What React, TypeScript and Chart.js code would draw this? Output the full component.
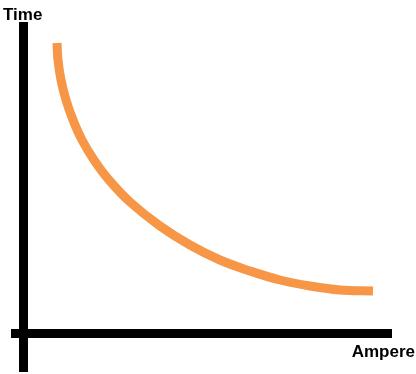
import React, { useEffect, useRef } from "react";
import { Chart, registerables } from "chart.js";

Chart.register(...registerables);

// Curve samples (arbitrary units, origin at the axis crossing)
const ampere = [3.4, 3.5, 3.8, 4.3, 5.0, 5.9, 7.1, 8.6, 10.7, 13.7, 16.7, 19.7, 22.7, 25.7, 28.7, 31.7, 35.0];
const time = [29.0, 27.3, 25.3, 23.3, 21.3, 19.3, 17.3, 15.3, 13.1, 10.7, 8.8, 7.3, 6.2, 5.3, 4.7, 4.3, 4.2];

const xLabel = "Ampere";
const yLabel = "Time";

const labelPlugin = {
  id: "axisLabels",
  afterDraw(chart: any) {
    const { ctx, chartArea } = chart;
    ctx.save();
    ctx.fillStyle = "#000";
    ctx.font = "bold 17px 'Liberation Sans', Arial, sans-serif";
    ctx.textBaseline = "alphabetic";
    ctx.textAlign = "left";
    ctx.fillText(yLabel, chartArea.left - 8, chartArea.top - 2);
    ctx.textAlign = "right";
    ctx.fillText(xLabel, chart.width - 1, chartArea.bottom - 15);
    ctx.restore();
  },
};

export default function App() {
  const ref = useRef<HTMLCanvasElement>(null);
  useEffect(() => {
    if (!ref.current) return;
    const zeroOnly = (scale: any) => {
      scale.ticks = [{ value: 0 }];
    };
    const chart = new Chart(ref.current, {
      type: "line",
      data: {
        datasets: [
          {
            data: ampere.map((a, i) => ({ x: a, y: time[i] })),
            borderColor: "#F79646",
            borderWidth: 9,
            borderCapStyle: "butt",
            borderJoinStyle: "round",
            pointRadius: 0,
            tension: 0.4,
            fill: false,
          },
        ],
      },
      options: {
        animation: false,
        responsive: false,
        layout: { padding: { left: 11, top: 22, right: 24, bottom: 2 } },
        plugins: { legend: { display: false }, tooltip: { enabled: false } },
        scales: {
          x: {
            type: "linear",
            min: -1.2,
            max: 36.9,
            afterBuildTicks: zeroOnly,
            ticks: { display: false },
            border: { display: false },
            grid: { color: "#000", lineWidth: 9, drawTicks: false, tickLength: 0 },
          },
          y: {
            type: "linear",
            min: -3.9,
            max: 31.1,
            afterBuildTicks: zeroOnly,
            ticks: { display: false },
            border: { display: false },
            grid: { color: "#000", lineWidth: 9, drawTicks: false, tickLength: 0 },
          },
        },
      },
      plugins: [labelPlugin],
    } as any);
    return () => chart.destroy();
  }, []);
  return (
    <canvas
      ref={ref}
      width={416}
      height={374}
      style={{ position: "absolute", left: 0, top: 0, display: "block", width: 416, height: 374 }}
    />
  );
}
